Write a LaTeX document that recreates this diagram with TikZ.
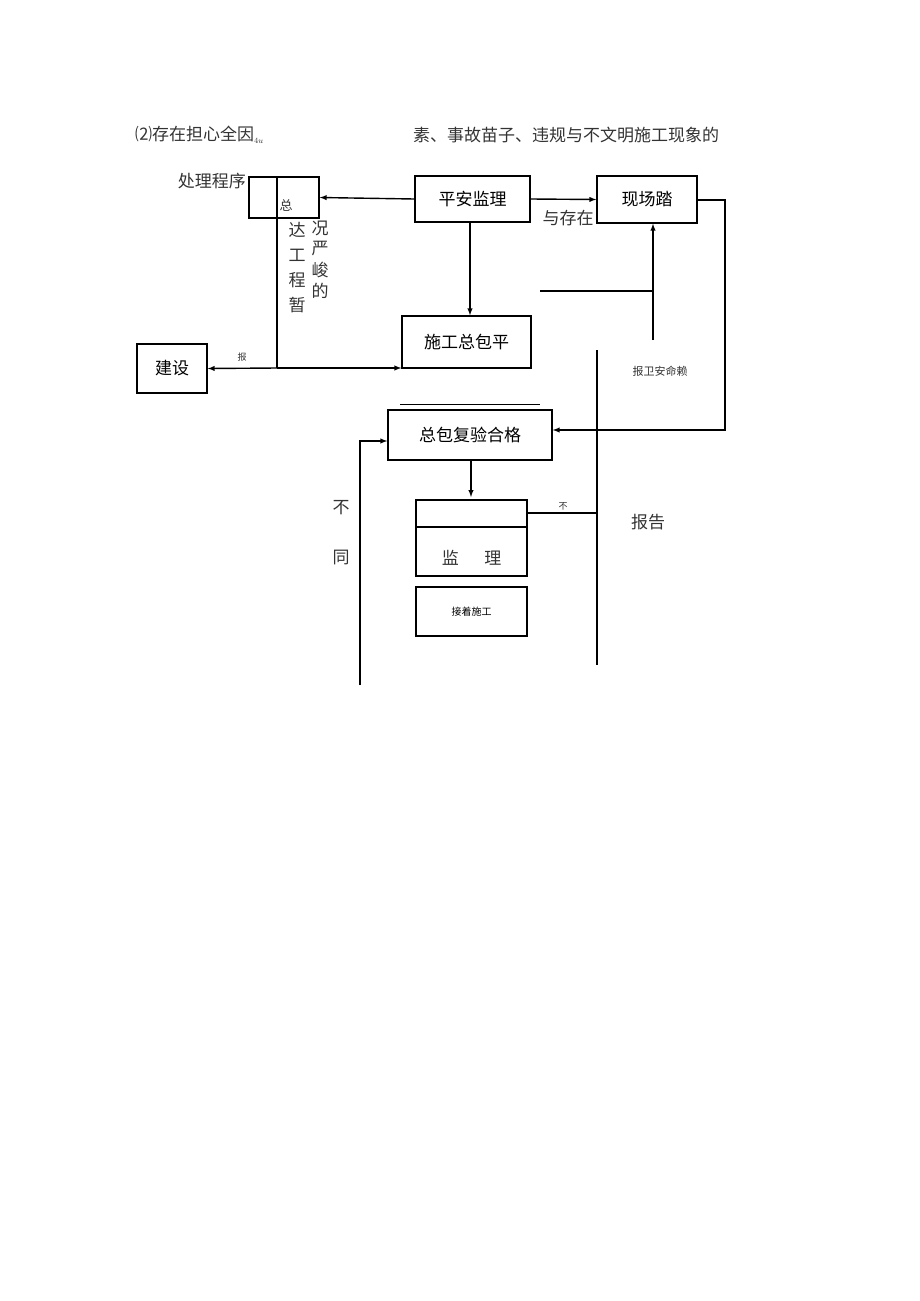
\documentclass[tikz,border=0pt]{standalone}
\usepackage{fontspec}
\setmainfont{Noto Sans CJK SC}
\begin{document}
\begin{tikzpicture}[x=1pt,y=-1pt,
  bx/.style={draw,line width=1.4pt,inner sep=0pt},
  ln/.style={line width=1.4pt},
  ar/.style={line width=1.4pt,-latex},
  tx/.style={inner sep=0pt,font=\fontsize{17}{17}\selectfont,text=black!80}]
\useasboundingbox (0,0) rectangle (920,1301);
\node[tx,anchor=west] (h1) at (135,135) {⑵存在担心全因$_{\scriptscriptstyle 4u}$};
\node[tx,anchor=west] (h2) at (413,135) {素、事故苗子、违规与不文明施工现象的};
\node[tx,anchor=east] (cl) at (246,181) {处理程序};
\node[bx,minimum width=70pt,minimum height=41pt] (zong) at (284,197.5) {};
\node[tx,font=\fontsize{13}{13}\selectfont] (zt) at (286,205) {总};
\node[bx,minimum width=115pt,minimum height=46pt] (pa) at (472.5,199) {\fontsize{17}{17}\selectfont 平安监理};
\node[bx,minimum width=100pt,minimum height=47pt] (xc) at (647,199.5) {\fontsize{17}{17}\selectfont 现场踏};
\node[tx] (yc) at (568,218) {与存在};
\node[bx,minimum width=129pt,minimum height=52pt] (sg) at (466.5,342) {\fontsize{17}{17}\selectfont 施工总包平};
\node[bx,minimum width=70pt,minimum height=49pt] (js) at (172,368.5) {\fontsize{17}{17}\selectfont 建设};
\node[bx,minimum width=164pt,minimum height=50pt] (fy) at (470,435) {\fontsize{17}{17}\selectfont 总包复验合格};
\node[bx,minimum width=111pt,minimum height=76pt] (jl) at (471.5,538) {};
\node[tx] (jlt) at (471.5,558) {监\hspace{1.5em}理};
\node[bx,minimum width=111pt,minimum height=49pt] (jz) at (471.5,611.5) {\fontsize{10}{10}\selectfont 接着施工};
\foreach \t/\y in {达/230,工/255,程/280,暂/305} \node[tx] at (297,\y) {\t};
\foreach \t/\y in {况/228,严/249,峻/270,的/291} \node[tx] at (320,\y) {\t};
\node[tx] (bu) at (341,508) {不};
\node[tx] (tong) at (341,557) {同};
\node[tx] (bg) at (648,522) {报告};
\node[tx,font=\fontsize{11}{11}\selectfont] (bw) at (660,371) {报卫安命赖};
\node[tx,font=\fontsize{9}{9}\selectfont] (bao) at (242,357) {报};
\node[tx,font=\fontsize{9}{9}\selectfont] (bu2) at (563,506) {不};
\coordinate (t1) at (277,368);
\draw[ln] (277,177) -- (t1);
\draw[ln] ([xshift=13pt]fy.north west) ++(0,-5) -- ++(140,0);
\draw[ln] (jl.west |- 0,527) -- (jl.east |- 0,527);
\draw[ar] (pa.west) -- (zong.east);
\draw[ar] (pa.east) -- (xc.west);
\draw[ar] (pa.south -| 470,0) -- (sg.north -| 470,0);
\draw[ar] (t1) -- (js.east);
\draw[ar] (t1) -- (sg.west |- t1);
\draw[ar] (xc.east |- 0,200) -- (725,200) -- (725,430) -- (fy.east |- 0,430);
\draw[ln] (540,291) -- (653,291);
\draw[ar] (653,340) -- (xc.south -| 653,0);
\draw[ln] (597,350) -- (597,665);
\draw[ar] (fy.south -| 471,0) -- (471,497);
\draw[ln] (jl.east |- 0,513) -- (597,513);
\draw[ar] (360,685) -- (360,441) -- (fy.west |- 0,441);
\end{tikzpicture}
\end{document}
